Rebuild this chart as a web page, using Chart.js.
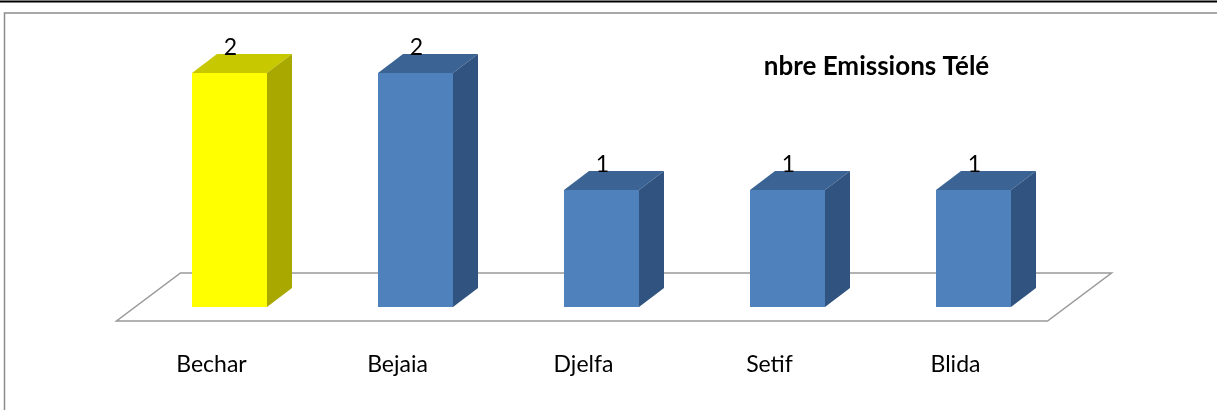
<!DOCTYPE html>
<html>
<head>
<meta charset="utf-8">
<title>nbre Emissions Télé</title>
<script src="https://cdn.jsdelivr.net/npm/chart.js@4/dist/chart.umd.min.js"></script>
<style>
  html, body { margin: 0; padding: 0; background: #fff; }
  #wrap { width: 1217px; height: 410px; }
</style>
</head>
<body>
<div id="wrap"><canvas id="chart" width="1217" height="410"></canvas></div>
<script>
// data
const villes = ['Bechar', 'Bejaia', 'Djelfa', 'Setif', 'Blida'];
const emissions = [2, 2, 1, 1, 1];
const titre = 'nbre Emissions Télé';

// face colours: front / top / side
const front = ['#FFFF00', '#4F81BD', '#4F81BD', '#4F81BD', '#4F81BD'];
const topFace = ['#C8C800', '#3B6494', '#3B6494', '#3B6494', '#3B6494'];
const sideFace = ['#A8A800', '#30537F', '#30537F', '#30537F', '#30537F'];

const DEPTH_X = 25, DEPTH_Y = 19;   // bar depth
const FLOOR_X = 64, FLOOR_Y = 48;   // floor depth

const font = 'Lato, "Open Sans", sans-serif';

// frame + floor, drawn behind the bars
const decor = {
  id: 'decor',
  beforeDraw(chart) {
    const ctx = chart.ctx;
    const w = chart.width, h = chart.height;
    ctx.save();
    ctx.strokeStyle = '#000';
    ctx.lineWidth = 2;
    ctx.beginPath();
    ctx.moveTo(0, 1.5); ctx.lineTo(w, 1.5);
    ctx.stroke();
    ctx.strokeStyle = '#8c8c8c';
    ctx.lineWidth = 1.5;
    ctx.beginPath();
    ctx.moveTo(w, 13); ctx.lineTo(4.5, 13); ctx.lineTo(4.5, h);
    ctx.stroke();
    ctx.restore();
  },
  beforeDatasetsDraw(chart) {
    const ctx = chart.ctx;
    const a = chart.chartArea;
    const yFront = chart.scales.y.getPixelForValue(0) + 14;
    const xL = a.left - 20, xR = a.right - 19;
    ctx.save();
    ctx.strokeStyle = '#999';
    ctx.lineWidth = 1.5;
    ctx.beginPath();
    ctx.moveTo(xL, yFront);
    ctx.lineTo(xR, yFront);
    ctx.lineTo(xR + FLOOR_X, yFront - FLOOR_Y);
    ctx.lineTo(xL + FLOOR_X, yFront - FLOOR_Y);
    ctx.closePath();
    ctx.stroke();
    ctx.restore();
  },
  afterDatasetsDraw(chart) {
    const ctx = chart.ctx;
    const meta = chart.getDatasetMeta(0);
    ctx.save();
    meta.data.forEach((bar, i) => {
      const p = bar.getProps(['x', 'y', 'base', 'width'], true);
      const x0 = p.x - p.width / 2, x1 = p.x + p.width / 2;
      const top = p.y, bot = p.base;
      // top face
      ctx.fillStyle = topFace[i];
      ctx.beginPath();
      ctx.moveTo(x0, top);
      ctx.lineTo(x1, top);
      ctx.lineTo(x1 + DEPTH_X, top - DEPTH_Y);
      ctx.lineTo(x0 + DEPTH_X, top - DEPTH_Y);
      ctx.closePath();
      ctx.fill();
      // side face
      ctx.fillStyle = sideFace[i];
      ctx.beginPath();
      ctx.moveTo(x1, top);
      ctx.lineTo(x1 + DEPTH_X, top - DEPTH_Y);
      ctx.lineTo(x1 + DEPTH_X, bot - DEPTH_Y);
      ctx.lineTo(x1, bot);
      ctx.closePath();
      ctx.fill();
      // value label
      ctx.fillStyle = '#000';
      ctx.font = '23px ' + font;
      ctx.textAlign = 'center';
      ctx.textBaseline = 'alphabetic';
      ctx.fillText(String(emissions[i]), p.x + 1, top - DEPTH_Y + 1);
    });
    // title
    const a = chart.chartArea;
    ctx.font = 'bold 26px ' + font;
    ctx.textAlign = 'center';
    ctx.fillText(titre, a.right - 190, a.top + 2);
    ctx.restore();
  }
};

new Chart(document.getElementById('chart'), {
  type: 'bar',
  data: {
    labels: villes,
    datasets: [{
      label: titre,
      data: emissions,
      backgroundColor: front,
      borderWidth: 0,
      categoryPercentage: 1,
      barPercentage: 75 / 186
    }]
  },
  options: {
    responsive: false,
    animation: false,
    events: [],
    layout: { padding: { left: 136.5, right: 150.5, top: 73, bottom: 31.6 } },
    plugins: {
      legend: { display: false },
      title: { display: false },
      tooltip: { enabled: false }
    },
    scales: {
      x: {
        grid: { display: false, drawTicks: false },
        border: { display: false },
        ticks: {
          color: '#000',
          font: { family: font, size: 23 },
          padding: 44,
          labelOffset: -18
        },
        afterFit(scale) { scale.height = 71.4; }
      },
      y: {
        display: false,
        min: 0,
        max: 2
      }
    }
  },
  plugins: [decor]
});
</script>
</body>
</html>
